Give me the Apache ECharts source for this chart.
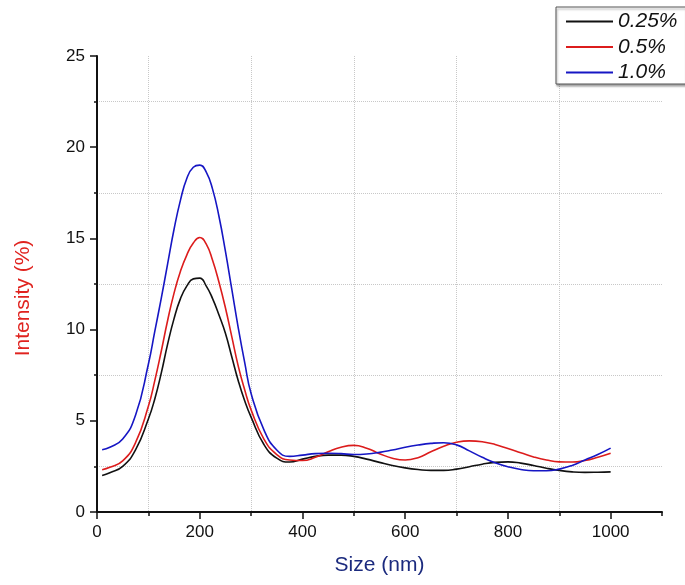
<!DOCTYPE html>
<html>
<head>
<meta charset="utf-8">
<script src="https://cdn.jsdelivr.net/npm/echarts@6/dist/echarts.min.js"></script>
<style>
  html, body { margin: 0; padding: 0; background: #fff; }
  #chart { width: 685px; height: 585px; }
</style>
</head>
<body>
<div id="chart"></div>
<script>
var sizes = [10, 25, 50, 75, 100, 112.5, 125, 137.5, 150, 162.5, 175, 187.5, 200, 212.5, 225, 237.5,
  250, 262.5, 275, 287.5, 300, 325, 350, 375, 400, 425, 450, 475, 500, 525, 550, 575, 600, 625,
  650, 675, 700, 725, 750, 775, 800, 825, 850, 875, 900, 925, 950, 975, 1000];

var conc025 = [2.0, 2.15, 2.5, 3.4, 5.1, 6.2, 7.6, 9.2, 10.6, 11.7, 12.4, 12.78, 12.82, 12.4, 11.7, 10.8,
  9.8, 8.5, 7.2, 6.1, 5.2, 3.7, 2.95, 2.74, 2.9, 3.05, 3.12, 3.12, 3.05, 2.9, 2.72, 2.55, 2.42, 2.33,
  2.28, 2.28, 2.35, 2.48, 2.62, 2.72, 2.75, 2.68, 2.55, 2.4, 2.28, 2.2, 2.17, 2.18, 2.2];

var conc05 = [2.32, 2.45, 2.8, 3.8, 5.8, 7.2, 8.8, 10.5, 12.0, 13.2, 14.1, 14.75, 15.05, 14.7, 13.8, 12.6,
  11.2, 9.6, 8.0, 6.7, 5.6, 4.0, 3.15, 2.85, 2.82, 3.0, 3.3, 3.55, 3.65, 3.5, 3.2, 2.95, 2.85, 2.98,
  3.3, 3.6, 3.82, 3.9, 3.85, 3.7, 3.48, 3.25, 3.02, 2.85, 2.75, 2.74, 2.82, 3.0, 3.22];

var conc10 = [3.41, 3.55, 4.0, 5.3, 8.1, 9.9, 11.7, 13.6, 15.5, 17.1, 18.3, 18.9, 19.02, 18.65, 17.7, 16.2,
  14.3, 12.2, 10.1, 8.2, 6.5, 4.5, 3.4, 3.05, 3.12, 3.2, 3.22, 3.2, 3.15, 3.18, 3.27, 3.4, 3.55, 3.67,
  3.76, 3.8, 3.68, 3.35, 3.0, 2.7, 2.48, 2.33, 2.26, 2.26, 2.35, 2.55, 2.85, 3.15, 3.5];

var seriesNames = ['0.25%', '0.5%', '1.0%'];
var xMajor = [0, 200, 400, 600, 800, 1000];
var yMajor = [0, 5, 10, 15, 20, 25];

function pairs(ys) {
  return sizes.map(function (x, i) { return [x, ys[i]]; });
}

var font = 'Liberation Sans, Arial, sans-serif';
var chart = echarts.init(document.getElementById('chart'));

chart.setOption({
  animation: false,
  textStyle: { fontFamily: font },
  grid: { left: 97, top: 56, right: 23, bottom: 73, containLabel: false, outerBoundsMode: 'none' },
  legend: {
    orient: 'vertical',
    left: 556,
    top: 7,
    padding: [4, 8, 1, 10],
    icon: 'rect',
    itemWidth: 47,
    itemHeight: 2,
    itemGap: 4.5,
    backgroundColor: '#fff',
    borderColor: '#555',
    borderWidth: 1,
    borderRadius: 0,
    shadowColor: 'rgba(0,0,0,0.35)',
    shadowBlur: 2,
    shadowOffsetX: 1,
    shadowOffsetY: 2,
    textStyle: { fontSize: 21, fontStyle: 'italic', color: '#111', fontFamily: font, lineHeight: 20 },
    data: seriesNames
  },
  xAxis: [
    {
      type: 'value', min: 0, max: 1100, interval: 100, position: 'bottom',
      name: 'Size (nm)', nameLocation: 'middle', nameGap: 43,
      nameTextStyle: { color: '#1b2a7e', fontSize: 21, fontFamily: font },
      axisLine: { lineStyle: { color: '#111', width: 2 } },
      axisTick: { length: 4, lineStyle: { color: '#111', width: 1.5 } },
      axisLabel: {
        color: '#111', fontSize: 17, margin: 12,
        formatter: function (v) { return xMajor.indexOf(v) >= 0 ? String(v) : ''; }
      },
      splitLine: {
        show: true, showMaxLine: false,
        lineStyle: { type: 'dotted', width: 1, color: ['rgba(0,0,0,0)', '#c8c8c8'] }
      }
    },
    {
      type: 'value', min: 0, max: 1100, position: 'bottom',
      axisLine: { show: false },
      axisTick: { customValues: xMajor, length: 7, lineStyle: { color: '#111', width: 1.5 } },
      axisLabel: { show: false },
      splitLine: { show: false }
    }
  ],
  yAxis: [
    {
      type: 'value', min: 0, max: 25, interval: 2.5, position: 'left',
      name: 'Intensity (%)', nameLocation: 'middle', nameGap: 63,
      nameTextStyle: { color: '#e0231f', fontSize: 21, fontFamily: font, padding: [0, 28, 0, 0] },
      axisLine: { show: true, lineStyle: { color: '#111', width: 2 } },
      axisTick: { length: 3, lineStyle: { color: '#111', width: 1.5 } },
      axisLabel: {
        color: '#111', fontSize: 17, margin: 12,
        formatter: function (v) { return yMajor.indexOf(v) >= 0 ? String(v) : ''; }
      },
      splitLine: {
        show: true, showMaxLine: false,
        lineStyle: { type: 'dotted', width: 1, color: ['rgba(0,0,0,0)', '#c8c8c8'] }
      }
    },
    {
      type: 'value', min: 0, max: 25, position: 'left',
      axisLine: { show: false },
      axisTick: { customValues: yMajor, length: 7, lineStyle: { color: '#111', width: 1.5 } },
      axisLabel: { show: false },
      splitLine: { show: false }
    }
  ],
  series: [
    { name: seriesNames[0], type: 'line', data: pairs(conc025), smooth: 0.5, symbol: 'none',
      lineStyle: { color: '#111', width: 1.6 }, itemStyle: { color: '#111' } },
    { name: seriesNames[1], type: 'line', data: pairs(conc05), smooth: 0.5, symbol: 'none',
      lineStyle: { color: '#dc1c1c', width: 1.6 }, itemStyle: { color: '#dc1c1c' } },
    { name: seriesNames[2], type: 'line', data: pairs(conc10), smooth: 0.5, symbol: 'none',
      lineStyle: { color: '#1616c4', width: 1.6 }, itemStyle: { color: '#1616c4' } }
  ]
});
</script>
</body>
</html>
